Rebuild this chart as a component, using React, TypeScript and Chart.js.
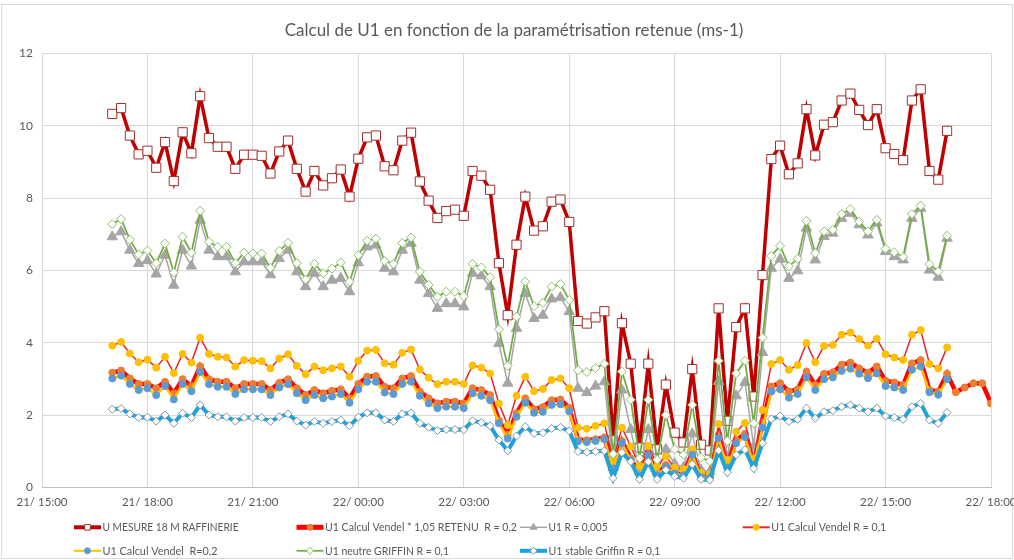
import React, { useEffect, useRef } from 'react';
import { Chart, registerables } from 'chart.js';

Chart.register(...registerables);

// ---------- DATA ----------
const tickLabels = ['21/ 15:00', '21/ 18:00', '21/ 21:00', '22/ 00:00', '22/ 03:00', '22/ 06:00', '22/ 09:00', '22/ 12:00', '22/ 15:00', '22/ 18:00'];
const AXIS_MAX_HOURS = 27; // 21/15:00 -> 22/18:00
const TICK_STEP_HOURS = 3;
const FIRST_SAMPLE_HOUR = 2; // first sample at 21/17:00
const SAMPLE_STEP_HOURS = 0.25; // one value every 15 min

const uMesure = [
  10.33, 10.49, 9.73, 9.21, 9.31, 8.84, 9.55, 8.47, 9.82, 9.24, 10.82, 9.66, 9.42, 9.42, 8.81, 9.2, 9.2, 9.17, 8.68, 9.29, 9.59, 8.81, 8.18, 8.75,
  8.35, 8.55, 8.79, 8.04, 9.09, 9.68, 9.73, 8.88, 8.77, 9.59, 9.81, 8.46, 7.93, 7.45, 7.64, 7.68, 7.51, 8.75, 8.62, 8.23, 6.2, 4.76, 6.71, 8.04, 7.1, 7.22, 7.9, 7.96,
  7.34, 4.6, 4.53, 4.7, 4.87, 1.3, 4.54, 3.42, 1.1, 3.42, 1.05, 2.84, 1.51, 1.24, 3.27, 1.18, 1.02, 4.95, 1.84, 4.43, 4.95, 2.51,
  5.87, 9.08, 9.45, 8.66, 8.96, 10.46, 9.18, 10.03, 10.1, 10.7, 10.89, 10.44, 10.02, 10.46, 9.38, 9.22, 9.05, 10.7, 11.01, 8.75, 8.51, 9.86,
];

const u1Vendel105 = [
  3.17, 3.23, 3.01, 2.86, 2.86, 2.74, 2.92, 2.6, 2.99, 2.8, 3.35, 2.99, 2.92, 2.92, 2.74, 2.86, 2.86, 2.86, 2.69, 2.89, 2.99, 2.74, 2.55, 2.69,
  2.6, 2.67, 2.71, 2.46, 2.86, 3.06, 3.08, 2.78, 2.74, 3.01, 3.08, 2.65, 2.46, 2.32, 2.37, 2.37, 2.32, 2.74, 2.69, 2.55, 1.85, 1.45, 2.05, 2.46, 2.16, 2.22, 2.41, 2.43,
  2.2, 1.32, 1.3, 1.33, 1.38, 0.55, 1.28, 0.8, 0.35, 0.95, 0.35, 0.62, 0.4, 0.35, 0.95, 0.3, 0.28, 1.45, 0.57, 1.3, 1.48, 0.64,
  1.78, 2.79, 2.88, 2.65, 2.71, 3.2, 2.83, 3.14, 3.18, 3.39, 3.45, 3.29, 3.17, 3.34, 2.95, 2.9, 2.83, 3.43, 3.52, 2.69, 2.65, 3.14, 2.63, 2.76, 2.88, 2.88, 2.32,
];

const u1R0005 = [
  6.93, 7.07, 6.56, 6.19, 6.27, 5.9, 6.42, 5.59, 6.56, 6.12, 7.39, 6.56, 6.38, 6.38, 5.96, 6.24, 6.24, 6.24, 5.88, 6.33, 6.56, 5.96, 5.55, 5.92,
  5.55, 5.73, 5.78, 5.41, 6.21, 6.65, 6.7, 6.06, 5.96, 6.56, 6.75, 5.73, 5.36, 4.95, 5.08, 5.08, 4.99, 5.92, 5.85, 5.55, 3.98, 2.88, 4.4, 5.36, 4.67, 4.76, 5.21, 5.25,
  4.86, 2.74, 2.62, 2.8, 2.92, 0.55, 2.69, 1.6, 0.45, 1.6, 0.42, 1.05, 0.65, 0.55, 1.48, 0.48, 0.43, 2.93, 0.8, 2.53, 2.9, 1.13,
  3.73, 6.06, 6.31, 5.78, 5.99, 7.17, 6.29, 6.94, 7.03, 7.44, 7.58, 7.26, 6.98, 7.31, 6.52, 6.38, 6.29, 7.44, 7.72, 6.01, 5.81, 6.89,
];

const u1VendelR01 = [
  3.92, 4.02, 3.7, 3.46, 3.53, 3.31, 3.61, 3.16, 3.69, 3.45, 4.14, 3.69, 3.61, 3.59, 3.34, 3.52, 3.5, 3.49, 3.29, 3.56, 3.68, 3.36, 3.13, 3.34,
  3.24, 3.29, 3.34, 3.06, 3.5, 3.78, 3.8, 3.43, 3.39, 3.72, 3.81, 3.26, 3.03, 2.85, 2.92, 2.92, 2.86, 3.37, 3.31, 3.15, 2.32, 1.72, 2.53, 3.06, 2.66, 2.72, 2.97, 3.01,
  2.74, 1.65, 1.62, 1.7, 1.77, 0.75, 1.65, 1.13, 0.6, 1.14, 0.58, 0.85, 0.55, 0.5, 1.05, 0.4, 0.36, 1.75, 0.76, 1.54, 1.78, 0.8,
  2.14, 3.41, 3.52, 3.25, 3.38, 3.99, 3.46, 3.91, 3.94, 4.22, 4.28, 4.1, 3.92, 4.11, 3.68, 3.59, 3.52, 4.22, 4.35, 3.41, 3.29, 3.87,
];

const u1VendelR02 = [
  3.01, 3.09, 2.86, 2.69, 2.74, 2.55, 2.8, 2.43, 2.86, 2.66, 3.19, 2.85, 2.78, 2.78, 2.58, 2.71, 2.71, 2.71, 2.55, 2.76, 2.85, 2.6, 2.41, 2.55,
  2.46, 2.51, 2.58, 2.34, 2.71, 2.92, 2.92, 2.62, 2.58, 2.86, 2.92, 2.53, 2.32, 2.19, 2.23, 2.23, 2.19, 2.6, 2.53, 2.41, 1.77, 1.35, 1.95, 2.34, 2.06, 2.09, 2.28, 2.3,
  2.1, 1.27, 1.25, 1.28, 1.33, 0.52, 1.22, 0.74, 0.33, 0.89, 0.33, 0.56, 0.38, 0.33, 0.9, 0.28, 0.26, 1.36, 0.55, 1.22, 1.39, 0.62,
  1.65, 2.65, 2.71, 2.48, 2.58, 3.04, 2.69, 2.99, 3.04, 3.22, 3.28, 3.14, 3.02, 3.15, 2.8, 2.76, 2.69, 3.25, 3.34, 2.63, 2.56, 2.99,
];

const u1NeutreGriffin = [
  7.28, 7.42, 6.85, 6.44, 6.55, 6.2, 6.74, 5.94, 6.93, 6.49, 7.65, 6.79, 6.65, 6.65, 6.2, 6.49, 6.47, 6.47, 6.07, 6.54, 6.76, 6.2, 5.75, 6.18,
  5.92, 6.05, 6.22, 5.69, 6.42, 6.82, 6.88, 6.26, 6.18, 6.76, 6.91, 5.96, 5.6, 5.27, 5.41, 5.41, 5.29, 6.18, 6.08, 5.81, 4.37, 3.36, 4.72, 5.69, 5.01, 5.1, 5.55, 5.62,
  5.18, 3.24, 3.19, 3.3, 3.42, 0.92, 3.2, 2.42, 0.8, 2.42, 0.76, 2.0, 1.05, 0.9, 2.28, 0.82, 0.72, 3.5, 1.28, 3.15, 3.5, 1.77,
  4.14, 6.4, 6.68, 6.11, 6.32, 7.37, 6.48, 7.08, 7.12, 7.56, 7.69, 7.35, 7.08, 7.4, 6.6, 6.5, 6.37, 7.56, 7.79, 6.17, 5.97, 6.96,
];

const u1StableGriffin = [
  2.16, 2.18, 2.03, 1.93, 1.94, 1.83, 2.0, 1.77, 2.05, 1.93, 2.28, 2.0, 1.95, 1.95, 1.83, 1.93, 1.93, 1.93, 1.82, 1.95, 2.03, 1.83, 1.72, 1.82,
  1.77, 1.82, 1.86, 1.7, 1.94, 2.06, 2.06, 1.86, 1.82, 2.03, 2.06, 1.77, 1.66, 1.57, 1.6, 1.6, 1.59, 1.84, 1.79, 1.7, 1.31, 1.01, 1.42, 1.68, 1.49, 1.51, 1.63, 1.66,
  1.56, 0.99, 0.97, 0.99, 1.01, 0.25, 0.96, 0.71, 0.22, 0.71, 0.22, 0.48, 0.3, 0.25, 0.64, 0.22, 0.2, 1.02, 0.41, 0.9, 1.04, 0.52,
  1.22, 1.89, 1.97, 1.82, 1.88, 2.19, 1.91, 2.09, 2.12, 2.23, 2.28, 2.19, 2.09, 2.19, 1.97, 1.93, 1.88, 2.23, 2.32, 1.86, 1.77, 2.07,
];

const seriesLabels = [
  'U MESURE 18 M RAFFINERIE',
  'U1 Calcul Vendel * 1,05 RETENU  R = 0,2',
  'U1 R = 0,005',
  'U1 Calcul Vendel R = 0,1',
  'U1 Calcul Vendel  R=0,2',
  'U1 neutre GRIFFIN R = 0,1',
  'U1 stable Griffin R = 0,1',
];

const TITLE = 'Calcul de U1 en fonction de la paramétrisation retenue (ms-1)';

// ---------- STYLE / LAYOUT ----------
const FONT = 'Lato, "Open Sans", sans-serif';
const TEXT_COLOR = '#595959';

type Sty = {
  line: string; lw: number; marker: 'rect' | 'circle' | 'triangle' | 'rectRot';
  fill: string; stroke: string; r: number; bw: number;
  lgLw: number; lgR: number;
};

const styles: Sty[] = [
  { line: '#C00000', lw: 3.5, marker: 'rect', fill: '#FFFFFF', stroke: '#A0302F', r: 6.5, bw: 1, lgLw: 4, lgR: 4 },
  { line: '#FF0000', lw: 4.5, marker: 'circle', fill: '#ED7D31', stroke: '#ED7D31', r: 3.5, bw: 1, lgLw: 5, lgR: 3 },
  { line: '#A5A5A5', lw: 1.5, marker: 'triangle', fill: '#A5A5A5', stroke: '#A5A5A5', r: 6, bw: 1, lgLw: 1.5, lgR: 4 },
  { line: '#E8262B', lw: 1.5, marker: 'circle', fill: '#FFC000', stroke: '#FFC000', r: 3.5, bw: 1, lgLw: 2, lgR: 3 },
  { line: '#FFC000', lw: 2.5, marker: 'circle', fill: '#5B9BD5', stroke: '#5B9BD5', r: 3.5, bw: 1, lgLw: 2, lgR: 3 },
  { line: '#70AD47', lw: 1.75, marker: 'rectRot', fill: '#FFFFFF', stroke: '#8CC168', r: 4.5, bw: 1, lgLw: 1.75, lgR: 3.5 },
  { line: '#1DA3DA', lw: 4, marker: 'rectRot', fill: '#FFFFFF', stroke: '#7A96AA', r: 4, bw: 1, lgLw: 4, lgR: 3.5 },
];

const legendCols = [74, 296.5, 520, 742.7];
const legendRows = [527.3, 550.8];
const legendSlots = [[0, 0], [0, 1], [0, 2], [0, 3], [1, 0], [1, 1], [1, 2]];
const legendTextWidths = [136, 192, 59, 115, 115, 124, 112];

const toPoints = (vals: number[]) => vals.map((y, i) => ({ x: FIRST_SAMPLE_HOUR + i * SAMPLE_STEP_HOURS, y }));

function drawMarker(ctx: CanvasRenderingContext2D, kind: string, x: number, y: number, r: number) {
  ctx.beginPath();
  if (kind === 'rect') {
    const s = r * Math.SQRT1_2;
    ctx.rect(x - s, y - s, 2 * s, 2 * s);
  } else if (kind === 'circle') {
    ctx.arc(x, y, r, 0, Math.PI * 2);
  } else if (kind === 'triangle') {
    ctx.moveTo(x, y - r);
    ctx.lineTo(x + r * 0.866, y + r * 0.5);
    ctx.lineTo(x - r * 0.866, y + r * 0.5);
    ctx.closePath();
  } else {
    ctx.moveTo(x, y - r);
    ctx.lineTo(x + r, y);
    ctx.lineTo(x, y + r);
    ctx.lineTo(x - r, y);
    ctx.closePath();
  }
  ctx.fill();
  ctx.stroke();
}

const titleLegendPlugin = {
  id: 'excelTitleLegend',
  afterDraw(chart: any) {
    const ctx: CanvasRenderingContext2D = chart.ctx;
    ctx.save();
    // title
    ctx.fillStyle = TEXT_COLOR;
    ctx.font = `17px ${FONT}`;
    ctx.textAlign = 'center';
    ctx.textBaseline = 'middle';
    ctx.fillText(TITLE, 514, 30.5);
    // legend
    seriesLabels.forEach((label, i) => {
      const st = styles[i];
      const [row, col] = legendSlots[i];
      const x0 = legendCols[col];
      const y = legendRows[row];
      ctx.strokeStyle = st.line;
      ctx.lineWidth = st.lgLw;
      ctx.beginPath();
      ctx.moveTo(x0, y);
      ctx.lineTo(x0 + 27, y);
      ctx.stroke();
      ctx.fillStyle = st.fill;
      ctx.strokeStyle = st.stroke;
      ctx.lineWidth = 1;
      drawMarker(ctx, st.marker, x0 + 13.5, y, st.lgR);
      ctx.fillStyle = TEXT_COLOR;
      ctx.font = `12px ${FONT}`;
      ctx.textBaseline = 'middle';
      ctx.textAlign = 'left';
      const w = ctx.measureText(label).width;
      ctx.save();
      ctx.translate(x0 + 28.5, y);
      ctx.scale(legendTextWidths[i] / w, 1);
      ctx.fillText(label, 0, 0);
      ctx.restore();
    });
    ctx.restore();
  },
};

const borderPlugin = {
  id: 'outerBorder',
  beforeDraw(chart: any) {
    const ctx: CanvasRenderingContext2D = chart.ctx;
    ctx.save();
    ctx.fillStyle = '#FFFFFF';
    ctx.fillRect(0, 0, chart.width, chart.height);
    ctx.strokeStyle = '#D9D9D9';
    ctx.lineWidth = 1;
    ctx.strokeRect(1.5, 4.5, chart.width - 3, chart.height - 6);
    ctx.restore();
  },
};

export default function App() {
  const canvasRef = useRef<HTMLCanvasElement | null>(null);

  useEffect(() => {
    if (!canvasRef.current) return;
    const allSeries = [uMesure, u1Vendel105, u1R0005, u1VendelR01, u1VendelR02, u1NeutreGriffin, u1StableGriffin];
    const datasets = allSeries.map((vals, i) => {
      const st = styles[i];
      return {
        label: seriesLabels[i],
        data: toPoints(vals),
        borderColor: st.line,
        borderWidth: st.lw,
        backgroundColor: st.fill,
        pointStyle: st.marker,
        pointRadius: st.r,
        pointBackgroundColor: st.fill,
        pointBorderColor: st.stroke,
        pointBorderWidth: st.bw,
        tension: 0,
        fill: false,
        order: 10 - i,
      };
    });

    const chart = new Chart(canvasRef.current, {
      type: 'line',
      data: { datasets },
      plugins: [borderPlugin, titleLegendPlugin],
      options: {
        animation: false,
        responsive: true,
        maintainAspectRatio: false,
        events: [],
        layout: { padding: { left: 0, right: 23, top: 53.5, bottom: 45 } },
        plugins: {
          legend: { display: false },
          tooltip: { enabled: false },
          title: { display: false },
        },
        scales: {
          x: {
            type: 'linear',
            min: 0,
            max: AXIS_MAX_HOURS,
            grid: { color: '#D9D9D9', drawTicks: false },
            border: { color: '#BFBFBF' },
            ticks: {
              stepSize: TICK_STEP_HOURS,
              autoSkip: false,
              maxRotation: 0,
              padding: 8,
              color: TEXT_COLOR,
              font: { family: FONT, size: 11.5 },
              callback: (v: any) => tickLabels[Math.round(Number(v) / TICK_STEP_HOURS)] ?? '',
            },
            afterFit: (s: any) => {
              s.height = 27.7;
              s.paddingLeft = 0;
              s.paddingRight = 0;
            },
          },
          y: {
            min: 0,
            max: 12,
            grid: { color: '#D9D9D9', drawTicks: false },
            border: { display: false },
            ticks: {
              stepSize: 2,
              padding: 9,
              color: TEXT_COLOR,
              font: { family: FONT, size: 12 },
            },
            afterFit: (s: any) => {
              s.width = 42;
              s.paddingTop = 0;
              s.paddingBottom = 0;
            },
          },
        },
      } as any,
    });
    return () => chart.destroy();
  }, []);

  return (
    <div style={{ position: 'absolute', left: 0, top: 0, width: 1014, height: 560 }}>
      <canvas ref={canvasRef} />
    </div>
  );
}
